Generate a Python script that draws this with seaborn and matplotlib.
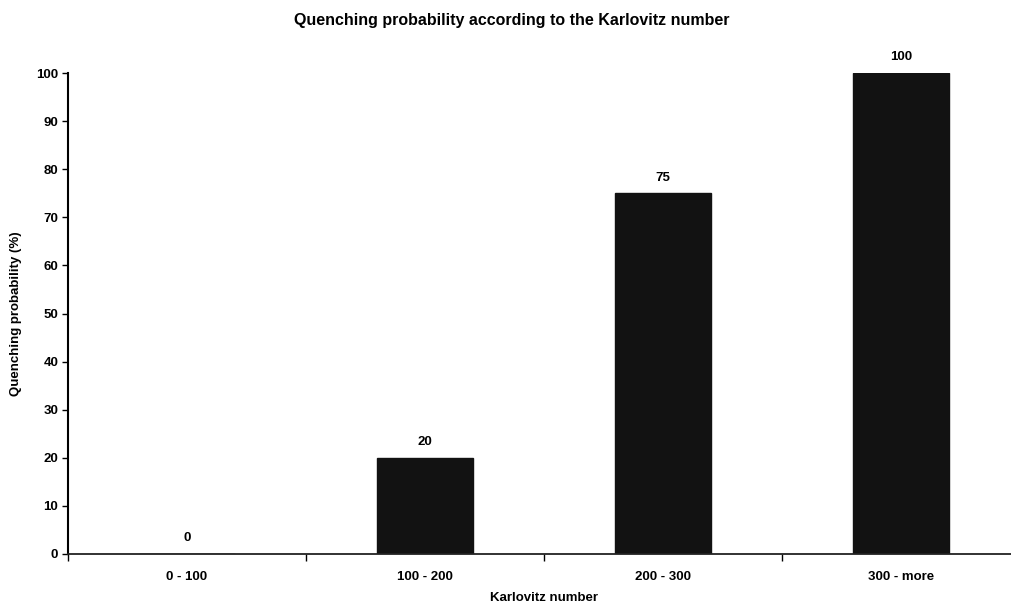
import matplotlib
matplotlib.use("Agg")
import matplotlib.pyplot as plt
import seaborn as sns
import pandas as pd

categories = ["0 - 100", "100 - 200", "200 - 300", "300 - more"]
values = [0, 20, 75, 100]
yticks = list(range(0, 101, 10))

title = "Quenching probability according to the Karlovitz number"
xlabel = "Karlovitz number"
ylabel = "Quenching probability (%)"

sns.set_theme(style="white")
plt.rcParams["font.family"] = ["Liberation Sans", "DejaVu Sans"]
plt.rcParams["text.color"] = "black"
plt.rcParams["axes.labelcolor"] = "black"
plt.rcParams["xtick.color"] = "black"
plt.rcParams["ytick.color"] = "black"

df = pd.DataFrame({"cat": categories, "val": values})

fig = plt.figure(figsize=(10.11, 6.04), dpi=100)
ax = fig.add_axes([68 / 1011, 1 - 554 / 604, (1020 - 68) / 1011, (554 - 73) / 604])

sns.barplot(data=df, x="cat", y="val", color="#121212", saturation=1,
            width=0.4, ax=ax, edgecolor="#121212")

ax.set_xlim(-0.5, 3.5)
ax.set_ylim(0, 100)
ax.set_yticks(yticks)
ax.set_yticklabels([str(t) for t in yticks], fontsize=9.5, fontweight="bold")
ax.set_xticks(range(len(categories)))
ax.set_xticklabels(categories, fontsize=9.5, fontweight="bold")
ax.tick_params(axis="x", length=0, pad=12)
ax.tick_params(axis="y", length=4, width=1, direction="out", left=True, pad=3)
# category boundary ticks
ax.set_xticks([i - 0.5 for i in range(len(categories))], minor=True)
ax.tick_params(axis="x", which="minor", length=5, width=1, direction="out", bottom=True)

for s in ["top", "right"]:
    ax.spines[s].set_visible(False)
ax.spines["left"].set_color("black")
ax.spines["left"].set_linewidth(1.5)
ax.spines["bottom"].set_color("#222222")
ax.spines["bottom"].set_linewidth(1.3)

for i, v in enumerate(values):
    ax.annotate(str(v), (i, v), xytext=(0, 7), textcoords="offset points",
                ha="center", va="bottom", fontsize=9.5, fontweight="bold")

ax.set_xlabel(xlabel, fontsize=9.5, fontweight="bold", labelpad=7)
ax.set_ylabel(ylabel, fontsize=9.5, fontweight="bold", labelpad=10)
fig.text(512 / 1011, 1 - 21 / 604, title, ha="center", va="center",
         fontsize=11.5, fontweight="bold")

fig.savefig("out.png", dpi=100)
